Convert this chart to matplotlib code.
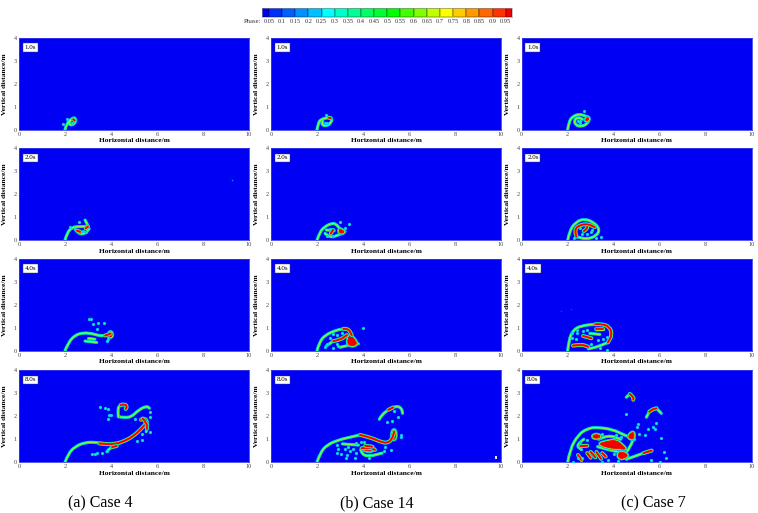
import numpy as np
import matplotlib
matplotlib.use("Agg")
import matplotlib.pyplot as plt
from matplotlib.colors import ListedColormap
from matplotlib.patches import PathPatch
from matplotlib.path import Path

plt.rcParams["font.family"] = ["Liberation Serif", "DejaVu Serif"]

# colour scale
PHASE_EDGES = [0.025, 0.05, 0.1, 0.15, 0.2, 0.25, 0.3, 0.35, 0.4, 0.45, 0.5, 0.55,
               0.6, 0.65, 0.7, 0.75, 0.8, 0.85, 0.9, 0.95, 0.975]
PHASE_TICKS = ["0.05", "0.1", "0.15", "0.2", "0.25", "0.3", "0.35", "0.4", "0.45", "0.5",
               "0.55", "0.6", "0.65", "0.7", "0.75", "0.8", "0.85", "0.9", "0.95"]
PHASE_COLORS = ["#0000f0", "#0030f8", "#0060ff", "#0090ff", "#00c0ff", "#00ffff", "#00ffc8",
                "#00ff96", "#00ff64", "#00ff32", "#00ff00", "#40ff00", "#80ff00", "#bfff00",
                "#ffff00", "#ffcc00", "#ff9900", "#ff6600", "#ff3300", "#f00000"]

TIMES = ["1.0s", "2.0s", "4.0s", "8.0s"]
CASES = ["(a) Case 4", "(b) Case 14", "(c) Case 7"]
X_TICKS = [0, 2, 4, 6, 8, 10]
Y_TICKS = [0, 1, 2, 3, 4]

# interface traces, (x, y) in metres
A1_LINES = [[(2.0, 0), (2.08, .28), (2.3, .49), (2.44, .53), (2.48, .35), (2.3, .17), (2.15, .28), (2.25, .42)]]
A1_HOT = [[(2.36, .45), (2.42, .4)]]
A1_DROPS = [(1.93, .25), (2.09, .48), (2.3, .3)]
A1_BLOBS = []

A2_LINES = [[(2.0, 0), (2.08, .3), (2.3, .57), (2.65, .6), (2.97, .6)],
            [(2.87, .88), (3.0, .67), (2.98, .57)],
            [(2.44, .48), (2.58, .28), (2.87, .28), (3.05, .5)]]
A2_HOT = [[(2.52, .42), (2.66, .37)], [(2.9, .52), (3.0, .6)]]
A2_DROPS = [(2.6, .81), (2.2, .6), (2.8, .42), (2.92, .36)]
A2_BLOBS = []
A2_SPECKS = [(9.26, 2.63)]

A3_LINES = [[(2, 0), (2.15, .36), (2.44, .68), (2.8, .78), (3.16, .75), (3.53, .64), (3.82, .68)],
            [(3.02, .53), (3.3, .5)], [(2.87, .42), (3.38, .36)]]
A3_HOT = [[(3.75, .66), (3.98, .74)]]
A3_DROPS = [(3.06, 1.36), (3.12, 1.36), (3.2, 1.16), (3.43, 1.22), (3.7, 1.19), (3.38, .94), (3.82, .42), (3.85, .52)]
A3_BLOBS = [[(3.85, .62), (3.95, .85), (4.06, .75), (4.03, .58)]]

A4_LINES = [[(2, 0), (2.15, .39), (2.44, .68), (2.87, .87), (3.38, .87), (3.82, .78)],
            [(3.82, .46), (3.96, .65), (4.25, .71)],
            [(4.32, 1.98), (4.6, 1.94), (4.9, 1.98), (5.19, 2.27), (5.55, 2.45), (5.67, 2.35)],
            [(4.32, 1.98), (4.28, 2.35), (4.42, 2.49)],
            [(5.53, 1.33), (5.6, 1.65), (5.55, 1.84)]]
A4_HOT = [[(3.5, .82), (3.82, .78), (4.18, .8), (4.54, .9), (4.98, 1.14), (5.34, 1.48), (5.53, 1.7), (5.55, 1.84), (5.41, 1.91), (5.3, 1.85)],
          [(5.38, 1.9), (5.56, 1.72), (5.56, 1.45)],
          [(4.05, .66), (4.25, .71)], [(4.42, 2.49), (4.6, 2.54), (4.7, 2.42), (4.64, 2.32)]]
A4_DROPS = [(3.52, 2.41), (3.74, 2.38), (3.88, 2.3), (3.9, 2.06), (3.88, 1.87), (3.98, 2.04), (5.06, 1.87), (5.7, 2.2),
            (5.7, 1.96), (5.7, 1.32), (5.34, 1.22), (5.34, .97), (5.12, .93), (3.19, .36), (3.38, .39), (3.6, .39), (3.3, .38), (3.82, .5)]
A4_BLOBS = []

B1_LINES = [[(2, 0), (2.06, .28), (2.16, .45), (2.5, .53), (2.64, .49), (2.64, .35), (2.45, .16), (2.2, .2), (2.25, .38)]]
B1_HOT = [[(2.52, .52), (2.6, .5)]]
B1_DROPS = [(2.37, .64), (2.35, .3), (2.45, .3)]
B1_BLOBS = []

B2_LINES = [[(2, 0), (2.13, .38), (2.35, .6), (2.64, .74), (2.83, .71), (3.0, .49), (3.22, .38)],
            [(2.35, .3), (2.57, .1), (2.95, .24), (3.1, .3)], [(2.4, .45), (2.75, .42)]]
B2_HOT = [[(2.6, .3), (2.7, .45)]]
B2_DROPS = [(3.0, .78), (3.37, .71), (3.22, .52), (2.57, .48), (2.68, .2), (2.42, .2)]
B2_BLOBS = [[(2.95, .52), (2.98, .28), (3.25, .36)]]

B3_LINES = [[(2, 0), (2.1, .36), (2.35, .68), (2.86, .9), (3.15, .95)],
            [(2.4, .2), (2.71, .42)], [(3.0, .15), (3.43, .25), (3.8, .3)]]
B3_HOT = [[(3.15, .95), (3.36, .97), (3.51, .68)], [(2.71, .42), (3, .46), (3.3, .68)]]
B3_DROPS = [(4.02, .97), (2.42, .27), (2.35, .17), (2.88, .27), (2.92, .2), (2.71, .1), (2.57, .56), (2.88, .68), (3.1, .78), (2.7, .72)]
B3_BLOBS = [[(3.42, .72), (3.3, .35), (3.45, .2), (3.72, .25), (3.7, .42)]]

B4_LINES = [[(2, 0), (2.13, .39), (2.42, .75), (2.93, .97), (3.43, 1.09), (3.87, 1.19)],
            [(4.71, 1.87), (4.81, 2.06), (5.1, 2.28)], [(5.3, 2.38), (5.46, 2.46), (5.68, 2.35), (5.72, 2.13)],
            [(3.9, .55), (3.95, .35), (4.25, .25), (4.83, .4)], [(3.1, .8), (3.8, .75)]]
B4_HOT = [[(3.87, 1.19), (4.3, 1.09), (4.74, .9), (5.03, .83), (5.25, .97), (5.36, 1.33)],
          [(5.1, 2.28), (5.3, 2.38)], [(3.94, .61), (4.3, .65), (4.52, .54)], [(4.1, .72), (4.4, .68)]]
B4_DROPS = [(2.85, .75), (2.9, .6), (2.88, .42), (3.05, .35), (3.2, .6), (3.35, .65), (3.55, .6), (3.7, .42), (3.45, .5),
            (3.25, .18), (3.3, .3), (3.65, .17), (4.25, .2), (4.9, .5), (5.2, .55), (4.95, .65), (5.65, 1.2), (5.64, 1.1),
            (5.05, 1.77), (5.25, 1.78), (5.5, 1.95), (5.35, 2.25), (3.7, .85), (3.9, .9), (4.05, .88)]
B4_BLOBS = [[(5.24, .98), (5.28, 1.4), (5.42, 1.4), (5.42, 1.0)], [(4.0, .6), (4.2, .72), (4.5, .62), (4.4, .48), (4.1, .5)]]

C1_LINES = [[(2, 0), (2.05, .35), (2.23, .59), (2.52, .68), (2.77, .59), (2.96, .54), (2.89, .28), (2.6, .13), (2.34, .2), (2.28, .42), (2.45, .54), (2.65, .45)]]
C1_HOT = []
C1_DROPS = [(2.69, .83), (2.52, .39), (2.44, .36), (2.55, .3)]
C1_BLOBS = [[(2.8, .32), (2.78, .52), (2.96, .52)]]

C2_LINES = [[(2, 0), (2.09, .45), (2.38, .81), (2.71, .93), (3.1, .81), (3.4, .48), (3.25, .19), (2.82, .04), (2.38, .16)]]
C2_HOT = [[(2.38, .16), (2.28, .45), (2.52, .67), (2.89, .71), (3.17, .57)], [(2.7, .4), (2.82, .48), (2.85, .58)]]
C2_DROPS = [(2.28, .1), (3.25, .1), (3.46, .14), (2.6, .28), (2.85, .28), (3.0, .35), (2.55, .55), (3.05, .45)]
C2_BLOBS = []

C3_LINES = [[(2, 0), (2.05, .46), (2.23, .9), (2.6, 1.09), (3.2, 1.15)], [(3.75, .36), (3.32, .17), (2.9, .08)],
            [(2.96, .75), (3.4, .71)]]
C3_HOT = [[(3.2, 1.15), (3.47, 1.17), (3.83, 1.04), (3.93, .68), (3.75, .36)], [(2.23, .22), (2.6, .28), (2.89, .17)],
          [(2.67, .64), (3.03, .54)], [(3.25, .94), (3.54, .94)]]
C3_DROPS = [(2.4, .9), (2.65, .85), (2.85, .9), (2.2, .55), (2.35, .5), (2.2, .75), (3.3, .45),
            (3.55, .5), (3.7, .6), (3.0, .3), (3.4, .12), (3.7, .05), (2.4, .75)]
C3_BLOBS = []
C3_SPECKS = [(1.73, 1.74), (2.13, 1.8)]

C4_LINES = [[(2, 0), (2.09, .54), (2.45, 1.19), (2.87, 1.48), (3.3, 1.52), (3.95, 1.43), (4.45, 1.19), (4.7, 1.09)],
            [(4.84, .97), (4.7, .6), (4.41, .32)], [(4.55, .13), (5.07, .32), (5.3, .4)], [(4.55, 2.83), (4.7, 2.97)],
            [(5.42, 1.96), (5.55, 2.2)], [(5.86, 2.35), (6.07, 2.13)], [(2.7, 1.0), (2.35, .75), (2.6, .55)],
            [(3.3, .68), (3.9, .5), (4.5, .42)], [(3.35, 1.0), (3.75, 1.2), (4.3, 1.0)]]
C4_HOT = [[(5.3, .4), (5.65, .51)], [(4.7, 2.97), (4.87, 2.83), (4.85, 2.72)], [(5.55, 2.2), (5.64, 2.28), (5.86, 2.35)],
          [(2.55, .7), (2.85, .72)], [(3.0, .45), (3.2, .22)], [(3.25, .45), (3.45, .15)], [(3.5, .4), (3.65, .25)],
          [(2.45, .32), (2.6, .1)], [(2.85, .4), (3.0, .2)]]
C4_DROPS = [(4.52, 2.1), (5.05, 1.68), (5.03, 1.52), (5.5, 1.45), (5.7, 1.55), (5.85, 1.7), (5.8, 1.45), (5.1, 1.25), (5.35, 1.2),
            (6.05, 1.04), (6.2, .44), (6.28, .18), (4.9, 1.0), (2.85, .98), (3.5, 1.25), (4.0, 1.05), (4.1, 1.2), (5.6, .1),
            (2.45, .18), (2.6, .18), (2.25, .02), (3.75, .1), (4.2, .05), (3.5, .02), (4.0, .35), (6.0, .0), (2.55, .9), (4.3, 1.12)]
C4_BLOBS = [[(3.3, .8), (3.75, .92), (4.1, .97), (4.4, .72), (4.55, .55), (4.2, .6), (3.8, .62)],
            [(3.1, 1.05), (3.1, 1.2), (3.4, 1.2), (3.4, 1.05)],
            [(4.2, .42), (4.4, .45), (4.65, .3), (4.4, .15), (4.2, .2)], [(4.58, 1.1), (4.88, 1.38), (4.88, .96)]]

PANEL_LINES = [[A1_LINES, A2_LINES, A3_LINES, A4_LINES], [B1_LINES, B2_LINES, B3_LINES, B4_LINES], [C1_LINES, C2_LINES, C3_LINES, C4_LINES]]
PANEL_HOT = [[A1_HOT, A2_HOT, A3_HOT, A4_HOT], [B1_HOT, B2_HOT, B3_HOT, B4_HOT], [C1_HOT, C2_HOT, C3_HOT, C4_HOT]]
PANEL_DROPS = [[A1_DROPS, A2_DROPS, A3_DROPS, A4_DROPS], [B1_DROPS, B2_DROPS, B3_DROPS, B4_DROPS], [C1_DROPS, C2_DROPS, C3_DROPS, C4_DROPS]]
PANEL_BLOBS = [[A1_BLOBS, A2_BLOBS, A3_BLOBS, A4_BLOBS], [B1_BLOBS, B2_BLOBS, B3_BLOBS, B4_BLOBS], [C1_BLOBS, C2_BLOBS, C3_BLOBS, C4_BLOBS]]

W, H = 758, 513
COL_LEFT = [19, 271, 521.7]
ROW_TOP = [37.7, 148.3, 258.7, 370.3]
AX_W, AX_H = 230, 92
LABEL_X = [5, 256, 507]


def axes_px(left, top, w, h):
    return [left / W, 1 - (top + h) / H, w / W, h / H]


def smooth_path(pts, closed=False):
    # quadratic curve through midpoints, just a rendering of the read-off points
    pts = [np.asarray(p, float) for p in pts]
    if closed:
        start = (pts[-1] + pts[0]) / 2
        verts, codes = [start], [Path.MOVETO]
        for i, p in enumerate(pts):
            q = pts[(i + 1) % len(pts)]
            verts += [p, (p + q) / 2]
            codes += [Path.CURVE3, Path.CURVE3]
        return Path(verts, codes)
    verts, codes = [pts[0]], [Path.MOVETO]
    for p, q in zip(pts[1:-1], pts[2:]):
        verts += [p, (p + q) / 2]
        codes += [Path.CURVE3, Path.CURVE3]
    verts.append(pts[-1])
    codes.append(Path.LINETO)
    return Path(verts, codes)


def stroke(ax, pts, layers):
    path = smooth_path(pts)
    for color, lw in layers:
        ax.add_patch(PathPatch(path, fc="none", ec=color, lw=lw, capstyle="round", joinstyle="round"))


THIN = [("#00b0ff", 2.3), ("#00f0a0", 1.7), ("#40ff30", 1.0), ("#c0f040", 0.4)]
HOT = [("#00b0ff", 3.0), ("#00f090", 2.5), ("#c0f000", 1.9), ("#ff5000", 1.5), ("#f00000", 1.2)]


def draw_panel(ax, lines, hot, drops, blobs):
    for pts in lines:
        stroke(ax, pts, THIN)
    for pts in blobs:
        path = smooth_path(pts, closed=True)
        for color, lw in [("#00b0ff", 3.0), ("#00f090", 2.2), ("#c0f000", 1.4), ("#f00000", 0.6)]:
            ax.add_patch(PathPatch(path, fc="#f00000", ec=color, lw=lw, joinstyle="round"))
    for pts in hot:
        stroke(ax, pts, HOT)
    if drops:
        xs, ys = zip(*drops)
        ax.scatter(xs, ys, s=5.5, color="#00c0ff", lw=0, zorder=3)
        ax.scatter(xs, ys, s=1.8, color="#20f0a0", lw=0, zorder=4)


fig = plt.figure(figsize=(W / 100, H / 100), dpi=100, facecolor="white")

for col, left in enumerate(COL_LEFT):
    for row, top in enumerate(ROW_TOP):
        ax = fig.add_axes(axes_px(left, top, AX_W, AX_H), facecolor="#0000f5")
        ax.set_xlim(0, 10)
        ax.set_ylim(0, 4)
        ax.set_xticks(X_TICKS)
        ax.set_yticks(Y_TICKS)
        ax.tick_params(length=0, labelsize=4.5, pad=1.5, labelcolor="#444444")
        for sp in ax.spines.values():
            sp.set_color("#3a3ae8")
            sp.set_linewidth(0.6)
        ax.set_xlabel("Horizontal distance/m", fontsize=5.4, fontweight="bold", labelpad=1.2)
        fig.text((LABEL_X[col]) / W, 1 - (top + AX_H / 2) / H, "Vertical distance/m", rotation=90,
                 ha="center", va="center", fontsize=5.4, fontweight="bold")
        draw_panel(ax, PANEL_LINES[col][row], PANEL_HOT[col][row], PANEL_DROPS[col][row], PANEL_BLOBS[col][row])
        ax.text(0.049, 0.895, TIMES[row], transform=ax.transAxes, ha="center", va="center", fontsize=5,
                bbox=dict(boxstyle="square,pad=0.25", fc="white", ec="#444444", lw=0.3), zorder=6)

# single-pixel specks and the stray white mark in Case 14 at 8 s
fig.axes[1].scatter(*zip(*A2_SPECKS), s=1.2, color="#00a0ff", lw=0)
fig.axes[10].scatter(*zip(*C3_SPECKS), s=0.8, color="#0060ff", lw=0)
fig.axes[7].plot([9.78, 9.78], [0.13, 0.27], color="white", lw=1.3, solid_capstyle="butt")

cax = fig.add_axes(axes_px(262.3, 8, 250, 9))
cax.pcolormesh(PHASE_EDGES, [0, 1], np.arange(20).reshape(1, -1),
               cmap=ListedColormap(PHASE_COLORS), edgecolors="#00000030", linewidth=0.2)
cax.set_yticks([])
cax.set_xticks(PHASE_EDGES[1:-1], PHASE_TICKS)
cax.tick_params(length=0, labelsize=4.6, pad=1.5, labelcolor="#333333")
for sp in cax.spines.values():
    sp.set_color("#999999")
    sp.set_linewidth(0.4)
fig.text(261 / W, 1 - 21.5 / H, "Phase:", ha="right", va="center", fontsize=4.8, color="#333333")

for case, x in zip(CASES, [100, 377, 653]):
    fig.text(x / W, 1 - 503 / H, case, ha="center", va="center", fontsize=11.5)

fig.savefig("out.png", dpi=100)
